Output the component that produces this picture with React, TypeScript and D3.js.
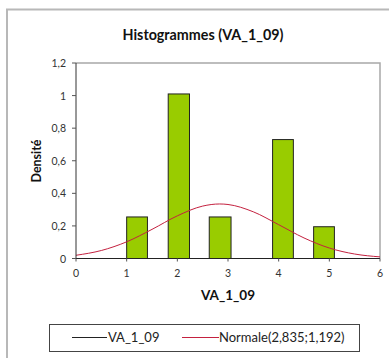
import React from "react";
import * as d3 from "d3";

const binStarts = [1.0, 1.82, 2.63, 3.88, 4.69];
const binEnds = [1.41, 2.24, 3.06, 4.29, 5.1];
const densities = [0.255, 1.01, 0.255, 0.73, 0.195];

const curveX = [0, 0.5, 1, 1.5, 2, 2.5, 2.835, 3, 3.5, 4, 4.5, 5, 5.5, 6];
const curveY = [0.0198, 0.0491, 0.1024, 0.1788, 0.2619, 0.3217, 0.3347, 0.3315, 0.2865, 0.2076, 0.1262, 0.0643, 0.0275, 0.0099];

const yTicks = [0, 0.2, 0.4, 0.6, 0.8, 1, 1.2];
const yTickLabels = ["0", "0,2", "0,4", "0,6", "0,8", "1", "1,2"];
const xTicks = [0, 1, 2, 3, 4, 5, 6];

const title = "Histogrammes (VA_1_09)";
const xTitle = "VA_1_09";
const yTitle = "Densité";
const legendLabels = ["VA_1_09", "Normale(2,835;1,192)"];

export default function App() {
  const W = 389, H = 358;
  const left = 76, right = 380, top = 63, bottom = 258.5;
  const x = d3.scaleLinear().domain([0, 6]).range([left, right]);
  const y = d3.scaleLinear().domain([0, 1.2]).range([bottom, top]);
  const line = d3
    .line<number>()
    .x((_, i) => x(curveX[i]))
    .y((d) => y(d))
    .curve(d3.curveMonotoneX);
  const font = "Lato, 'Open Sans', sans-serif";
  const red = "#c4213f";
  return (
    <svg
      width={W}
      height={H}
      style={{ position: "absolute", left: 0, top: 0, background: "#fff" }}
      fontFamily={font}
    >
      <rect x={0} y={0} width={W} height={H} fill="#fff" />
      <path d="M7,360 V9.5 H392" fill="none" stroke="#b8b8b8" strokeWidth={2} />
      <text x={203} y={40} textAnchor="middle" fontSize={14.3} fontWeight="bold" fill="#111">
        {title}
      </text>
      {/* plot area frame */}
      <path d={`M${left},${top} H${right} V${bottom}`} fill="none" stroke="#a8a8a8" strokeWidth={1.5} />
      {/* bars */}
      {densities.map((d, i) => (
        <rect
          key={i}
          x={x(binStarts[i])}
          y={y(d)}
          width={x(binEnds[i]) - x(binStarts[i])}
          height={bottom - y(d)}
          fill="#99cc00"
          stroke="#222"
          strokeWidth={1}
        />
      ))}
      {/* normal curve */}
      <path d={line(curveY) || ""} fill="none" stroke={red} strokeWidth={1} />
      {/* axes */}
      <line x1={left} x2={left} y1={top} y2={bottom} stroke="#333" strokeWidth={1} />
      <line x1={left - 4} x2={right} y1={bottom} y2={bottom} stroke="#222" strokeWidth={1.2} />
      {yTicks.map((t, i) => (
        <g key={i}>
          <line x1={left - 4} x2={left} y1={y(t)} y2={y(t)} stroke="#555" />
          <text x={left - 10} y={y(t) + 4} textAnchor="end" fontSize={10.5} fill="#333">
            {yTickLabels[i]}
          </text>
        </g>
      ))}
      {xTicks.map((t, i) => (
        <g key={i}>
          <line x1={x(t)} x2={x(t)} y1={bottom} y2={bottom + 3} stroke="#555" />
          <text x={x(t)} y={bottom + 18} textAnchor="middle" fontSize={10.5} fill="#333">
            {t}
          </text>
        </g>
      ))}
      <text x={228} y={300} textAnchor="middle" fontSize={13.5} fontWeight="bold" fill="#111">
        {xTitle}
      </text>
      <text
        transform={`translate(41,161) rotate(-90)`}
        textAnchor="middle"
        fontSize={12.5}
        fontWeight="bold"
        fill="#111"
      >
        {yTitle}
      </text>
      {/* legend */}
      <rect x={49.5} y={324.5} width={310} height={27} fill="#fff" stroke="#444" strokeWidth={1} />
      <line x1={72} x2={107} y1={337.5} y2={337.5} stroke="#222" strokeWidth={1} />
      <text x={108} y={342} fontSize={13} fill="#222">
        {legendLabels[0]}
      </text>
      <line x1={182} x2={219} y1={337.5} y2={337.5} stroke={red} strokeWidth={1} />
      <text x={219} y={342} fontSize={13} fill="#222">
        {legendLabels[1]}
      </text>
    </svg>
  );
}
